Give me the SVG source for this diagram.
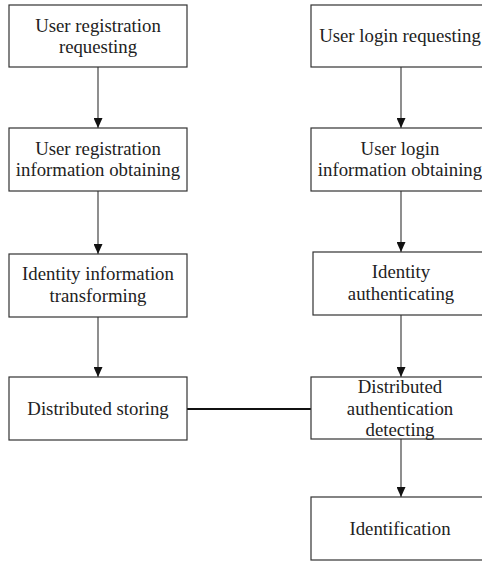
<svg xmlns="http://www.w3.org/2000/svg" width="482" height="561" viewBox="0 0 482 561">
<defs>
<marker id="ah" markerUnits="userSpaceOnUse" markerWidth="10" markerHeight="9" refX="10" refY="4.5" orient="auto">
<path d="M0,0 L10,4.5 L0,9 z" fill="#111"/>
</marker>
<style>
.box{fill:#fff;stroke:#333;stroke-width:1.2}
.t{font-family:'Liberation Serif','Times New Roman',serif;font-size:18.8px;fill:#222;text-anchor:middle}
.a{stroke:#444;stroke-width:1.2;fill:none;marker-end:url(#ah)}
.l{stroke:#111;stroke-width:1.8;fill:none}
</style>
</defs>
<rect width="482" height="561" fill="#fff"/>
<g id="connectors">
<line class="a" x1="98" y1="67" x2="98" y2="128"/>
<line class="a" x1="98" y1="191" x2="98" y2="254"/>
<line class="a" x1="98" y1="317" x2="98" y2="377"/>
<line class="a" x1="401" y1="67" x2="401" y2="128"/>
<line class="a" x1="401" y1="191" x2="401" y2="252"/>
<line class="a" x1="401" y1="315" x2="401" y2="377"/>
<line class="a" x1="401" y1="439" x2="401" y2="497"/>
<line class="l" x1="187" y1="409" x2="311" y2="409"/>
</g>
<g font-family="Liberation Serif, Times New Roman, serif">
<g id="reg_request">
<rect class="box" x="9" y="5" width="178" height="62"/>
<text class="t" x="98" y="31.5">User registration</text>
<text class="t" x="98" y="52.5">requesting</text>
</g>
<g id="reg_info">
<rect class="box" x="9" y="128" width="178" height="63"/>
<text class="t" x="98" y="154.5">User registration</text>
<text class="t" x="98" y="176">information obtaining</text>
</g>
<g id="identity_transform">
<rect class="box" x="9" y="254" width="178" height="63"/>
<text class="t" x="98" y="280">Identity information</text>
<text class="t" x="98" y="301.5">transforming</text>
</g>
<g id="dist_storing">
<rect class="box" x="9" y="377" width="178" height="63"/>
<text class="t" x="98" y="414.5">Distributed storing</text>
</g>
<g id="login_request">
<rect class="box" x="311" y="5" width="180" height="62"/>
<text class="t" x="400" y="42">User login requesting</text>
</g>
<g id="login_info">
<rect class="box" x="311" y="128" width="180" height="63"/>
<text class="t" x="400" y="154.5">User login</text>
<text class="t" x="400" y="176">information obtaining</text>
</g>
<g id="identity_auth">
<rect class="box" x="313" y="252" width="178" height="63"/>
<text class="t" x="401" y="278">Identity</text>
<text class="t" x="401" y="300">authenticating</text>
</g>
<g id="dist_auth">
<rect class="box" x="311" y="377" width="180" height="62"/>
<text class="t" x="400" y="392.5">Distributed</text>
<text class="t" x="400" y="414.5">authentication</text>
<text class="t" x="400" y="435.5">detecting</text>
</g>
<g id="identification">
<rect class="box" x="311" y="497" width="180" height="63"/>
<text class="t" x="400" y="535">Identification</text>
</g>
</g>
</svg>
